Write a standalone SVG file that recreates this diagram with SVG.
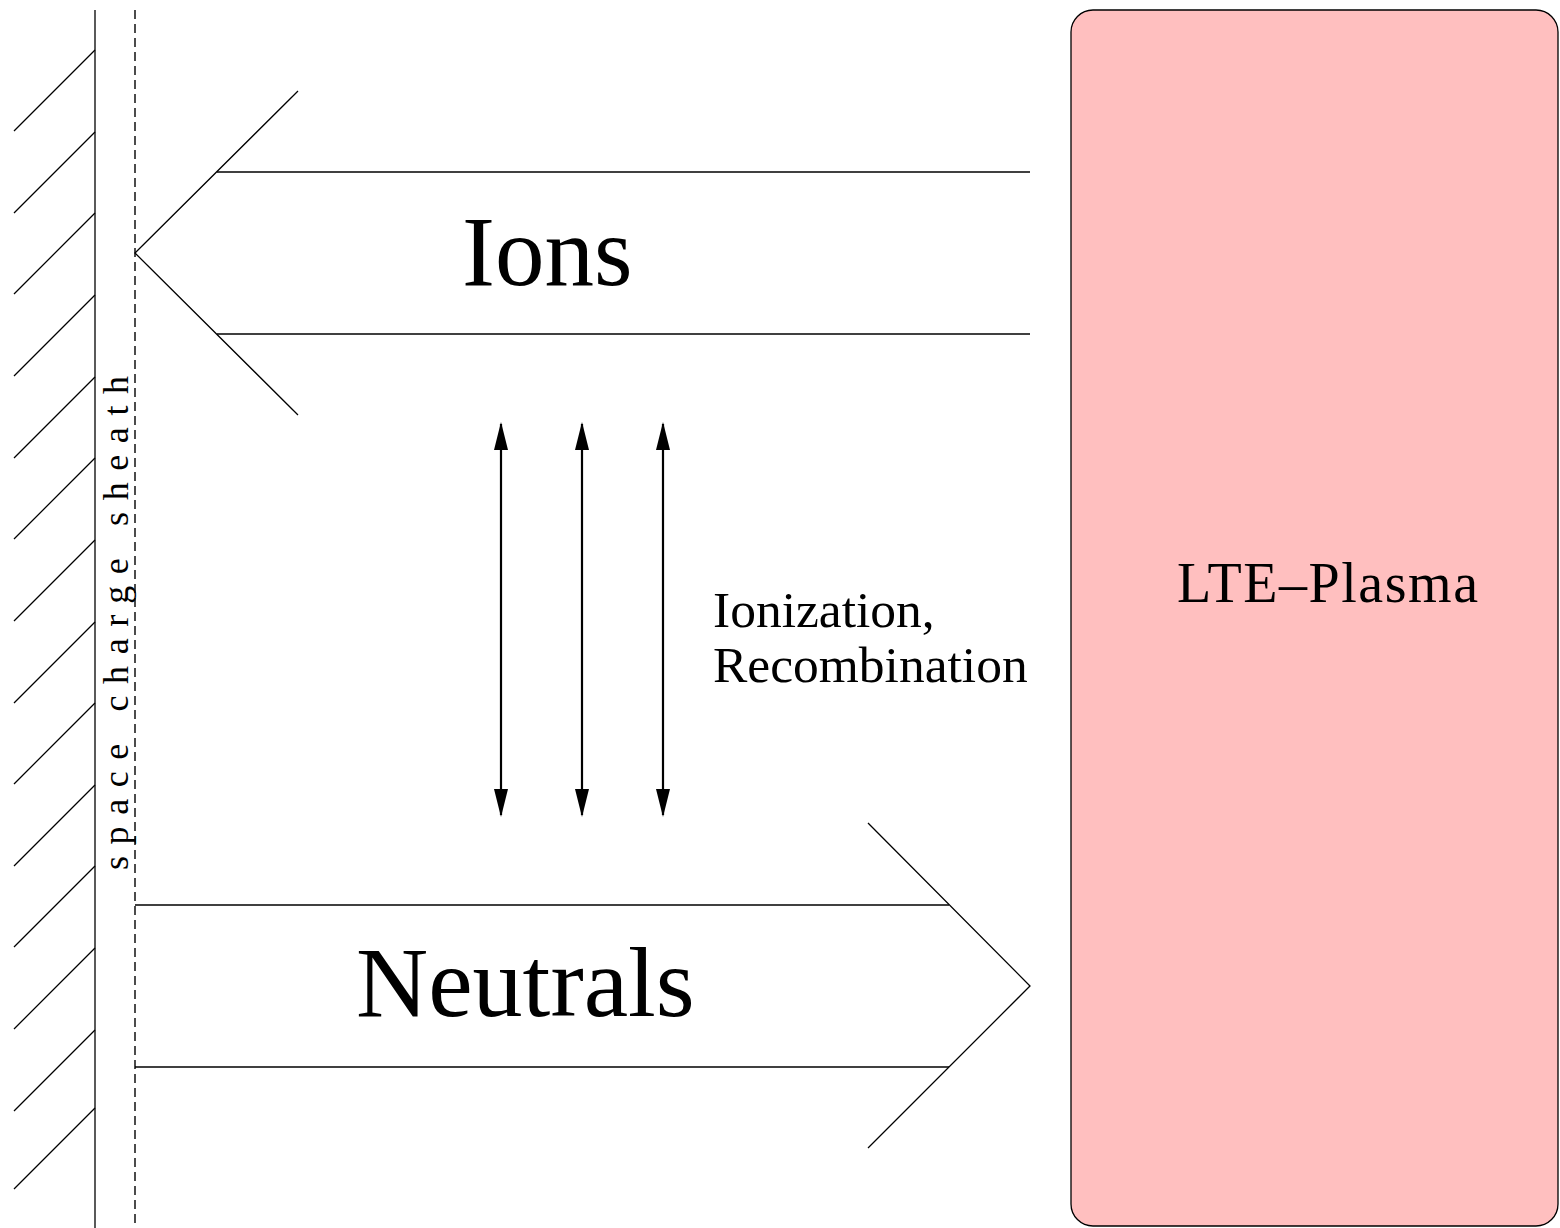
<svg xmlns="http://www.w3.org/2000/svg" width="1560" height="1228" viewBox="0 0 1560 1228">
  <style>
    .ln { stroke: #000; stroke-width: 1.3; fill: none; }
    .dash { stroke: #000; stroke-width: 1.4; fill: none; stroke-dasharray: 9 5; }
    .dbl { stroke: #000; stroke-width: 2.2; fill: none; }
    .tx { font-family: "Liberation Serif", "Times New Roman", serif; fill: #000; }
  </style>
  <defs>
    <marker id="head" viewBox="0 0 28 16" refX="26" refY="8" markerWidth="28" markerHeight="16" markerUnits="userSpaceOnUse" orient="auto-start-reverse">
      <path d="M0,1 L28,8 L0,15 Z" fill="#000"/>
    </marker>
  </defs>
  <rect width="1560" height="1228" fill="#fff"/>

  <!-- wall with hatching -->
  <g id="wall">
    <line class="ln" x1="95" y1="10" x2="95" y2="1228"/>
    <path class="ln" d="M95,50 L14,131 M95,132 L14,213 M95,213 L14,294 M95,295 L14,376 M95,377 L14,458 M95,458 L14,539 M95,540 L14,621 M95,622 L14,703 M95,703 L14,784 M95,785 L14,866 M95,866 L14,947 M95,948 L14,1029 M95,1030 L14,1111 M95,1108 L14,1189"/>
  </g>

  <!-- sheath edge -->
  <g id="sheath">
    <line class="dash" x1="135" y1="10" x2="135" y2="1228"/>
    <text class="tx" x="128" y="870" font-size="36" letter-spacing="11.6" transform="rotate(-90 128 870)">space charge sheath</text>
  </g>

  <!-- ions flowing towards the wall -->
  <g id="ions">
    <path class="ln" d="M298,91 L135,253 L298,415"/>
    <line class="ln" x1="217" y1="172" x2="1030" y2="172"/>
    <line class="ln" x1="217" y1="334" x2="1030" y2="334"/>
    <text class="tx" x="462" y="285" font-size="99">Ions</text>
  </g>

  <!-- neutrals flowing back into the plasma -->
  <g id="neutrals">
    <path class="ln" d="M868,823 L1030,986 L868,1148"/>
    <line class="ln" x1="135" y1="905" x2="949" y2="905"/>
    <line class="ln" x1="135" y1="1067" x2="949" y2="1067"/>
    <text class="tx" x="356" y="1016" font-size="100">Neutrals</text>
  </g>

  <!-- plasma bulk -->
  <g id="plasma">
    <rect x="1071" y="10" width="487" height="1216" rx="22" ry="22" fill="#ffbfbf" stroke="#000" stroke-width="1.3"/>
    <text class="tx" x="1177" y="602" font-size="56" textLength="301" lengthAdjust="spacing">LTE–Plasma</text>
  </g>

  <!-- process label -->
  <g id="process">
    <text class="tx" x="713" y="627" font-size="51.5">Ionization,</text>
    <text class="tx" x="713" y="682" font-size="51.5">Recombination</text>
  </g>

  <!-- ionization / recombination exchange -->
  <g id="connectors">
    <line class="dbl" x1="501" y1="424" x2="501" y2="815" marker-start="url(#head)" marker-end="url(#head)"/>
    <line class="dbl" x1="582" y1="424" x2="582" y2="815" marker-start="url(#head)" marker-end="url(#head)"/>
    <line class="dbl" x1="663" y1="424" x2="663" y2="815" marker-start="url(#head)" marker-end="url(#head)"/>
  </g>
</svg>
